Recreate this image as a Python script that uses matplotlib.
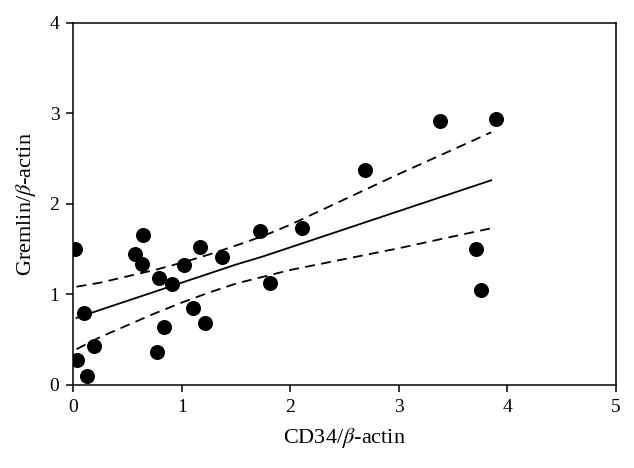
import numpy as np
import matplotlib
matplotlib.use('Agg')
import matplotlib.pyplot as plt

# ---------------------------------------------------------------------------
# Data
# ---------------------------------------------------------------------------

cd34 = [0.02, 0.03, 0.10, 0.13, 0.19, 0.57, 0.63, 0.64, 0.79, 0.77,
        0.91, 0.84, 1.02, 1.17, 1.10, 1.21, 1.37, 1.81, 1.72, 2.11,
        2.69, 3.38, 3.89, 3.71, 3.76]
gremlin = [1.50, 0.28, 0.79, 0.10, 0.43, 1.45, 1.34, 1.66, 1.18, 0.36,
           1.12, 0.64, 1.32, 1.52, 0.85, 0.68, 1.41, 1.13, 1.70, 1.73,
           2.37, 2.92, 2.94, 1.50, 1.05]

# regression line and 95% band, sampled along x
fit_x = [0.03, 0.25, 0.5, 0.75, 1.0, 1.25, 1.5, 1.75, 2.0, 2.25,
         2.5, 2.75, 3.0, 3.25, 3.5, 3.85]
fit_y = [0.74, 0.83, 0.93, 1.03, 1.13, 1.23, 1.33, 1.42, 1.52, 1.62,
         1.72, 1.82, 1.92, 2.02, 2.12, 2.26]
band_upper = [1.085, 1.13, 1.20, 1.27, 1.35, 1.44, 1.54, 1.645, 1.77, 1.91,
              2.05, 2.19, 2.33, 2.465, 2.60, 2.79]
band_lower = [0.395, 0.53, 0.66, 0.79, 0.91, 1.02, 1.12, 1.195, 1.27, 1.33,
              1.39, 1.45, 1.51, 1.575, 1.64, 1.73]

x_ticks = [0, 1, 2, 3, 4, 5]
y_ticks = [0, 1, 2, 3, 4]

# ---------------------------------------------------------------------------
# Plot
# ---------------------------------------------------------------------------

plt.rcParams['font.family'] = ['Liberation Serif', 'DejaVu Serif']
plt.rcParams['mathtext.fontset'] = 'stix'

fig = plt.figure(figsize=(6.34, 4.68), dpi=100)
ax = fig.add_axes([0.1156, 0.1774, 0.856, 0.7741])

ax.plot(fit_x, fit_y, color='black', lw=1.3)
ax.plot(fit_x, band_upper, color='black', lw=1.3, ls=(0, (5.5, 3.5)))
ax.plot(fit_x, band_lower, color='black', lw=1.3, ls=(0, (5.5, 3.5)))
ax.scatter(cd34, gremlin, s=117, color='black', zorder=3, linewidths=0)

ax.set_xlim(0, 5)
ax.set_ylim(0, 4)
ax.set_xticks(x_ticks)
ax.set_yticks(y_ticks)
ax.tick_params(direction='out', length=5, width=1.1, labelsize=14, pad=5)
for sp in ax.spines.values():
    sp.set_linewidth(1.1)

ax.set_xlabel(r'CD34/$\beta$-actin', fontsize=16, labelpad=7)
ax.set_ylabel(r'Gremlin/$\beta$-actin', fontsize=16, labelpad=8)

fig.savefig('out.png', dpi=100)
